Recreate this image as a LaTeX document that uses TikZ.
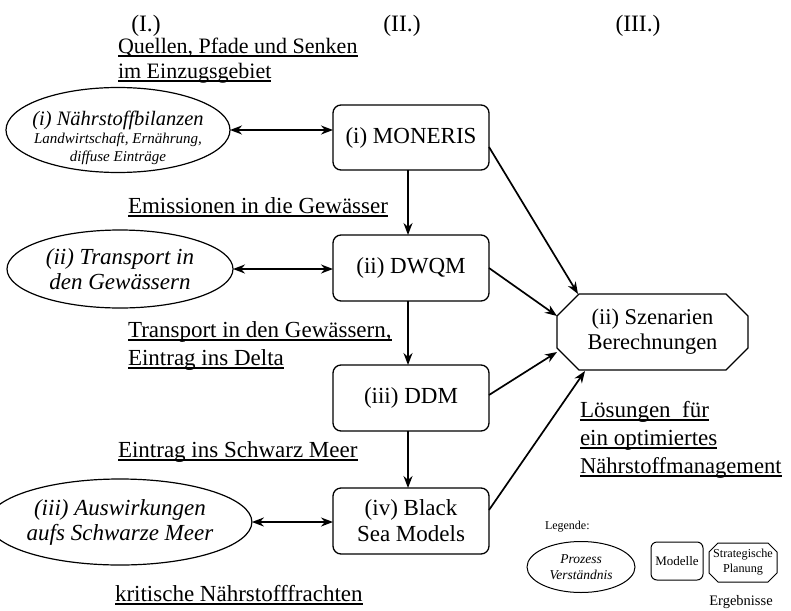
\documentclass[tikz,border=0pt]{standalone}
\usepackage{fontspec}
\setmainfont{Liberation Serif}
\usetikzlibrary{shapes.geometric,arrows.meta,calc}
\newcommand{\myul}[1]{\setbox0\hbox{#1}\rlap{\rule[-3.5pt]{\wd0}{1.1pt}}\box0}
\newcommand{\drawocto}[3]{% node, chamfer, style
  \draw[#3] ([xshift=#2]#1.north west) -- ([xshift=-#2]#1.north east) -- ([yshift=-#2]#1.north east)
    -- ([yshift=#2]#1.south east) -- ([xshift=-#2]#1.south east) -- ([xshift=#2]#1.south west)
    -- ([yshift=#2]#1.south west) -- ([yshift=-#2]#1.north west) -- cycle;}
\begin{document}
\begin{tikzpicture}[x=1pt,y=-1pt,
  every node/.style={inner sep=0pt,outer sep=0pt},
  txt/.style={font=\fontsize{23}{28}\selectfont, anchor=base west},
  hdr/.style={font=\fontsize{23.5}{28}\selectfont},
  proc/.style={draw, ellipse, line width=1.2pt, minimum width=224pt, minimum height=80pt, align=center, font=\fontsize{23}{25}\selectfont\itshape},
  modbox/.style={draw, rounded corners=8pt, line width=1.3pt, minimum width=156pt, minimum height=66pt, align=center, font=\fontsize{23}{26}\selectfont},
  arr/.style={line width=1.7pt, -{Stealth[length=12pt,width=9pt]}},
  darr/.style={line width=1.7pt, {Stealth[length=12pt,width=9pt]}-{Stealth[length=12pt,width=9pt]}}
]
\useasboundingbox (0,0) rectangle (791,610);
% headers
\node[hdr] (h1) at (146,26) {(I.)};
\node[hdr] (h2) at (402,26) {(II.)};
\node[hdr] (h3) at (638,26) {(III.)};
% labels
\node[txt, font=\fontsize{22}{26}\selectfont] (l1) at (118,53) {\myul{Quellen, Pfade und Senken}};
\node[txt, font=\fontsize{22}{26}\selectfont] (l2) at (118,78) {\myul{im Einzugsgebiet}};
\node[txt] (l3) at (128,213) {\myul{Emissionen in die Gewässer}};
\node[txt] (l4) at (128,337) {\myul{Transport in den Gewässern,}};
\node[txt] (l5) at (128,365) {\myul{Eintrag ins Delta}};
\node[txt] (l6) at (118,457) {\myul{Eintrag ins Schwarz Meer}};
\node[txt] (l7) at (115,601) {\myul{kritische Nährstofffrachten}};
\node[txt] (l8) at (580,417) {\myul{Lösungen\ \ für}};
\node[txt] (l9) at (580,445) {\myul{ein optimiertes}};
\node[txt, font=\fontsize{22.6}{28}\selectfont] (l10) at (580,473) {\myul{Nährstoffmanagement}};
% process ellipses
\node[proc, minimum height=85pt] (e1) at (118,130) {};
\node[align=center, font=\fontsize{15}{18}\selectfont\itshape] (e1t) at (118,138) {{\fontsize{20.5}{20}\selectfont (i) Nährstoffbilanzen}\\
  Landwirtschaft, Ernährung,\\diffuse Einträge};
\node[proc, minimum width=226pt, minimum height=78pt] (e2) at (120,269) {(ii) Transport in\\den Gewässern};
\node[proc, minimum width=222pt, minimum height=86pt] (e3) at (120,522) {(iii) Auswirkungen\\aufs Schwarze Meer};
% model boxes
\node[modbox, minimum height=65pt] (m1) at (411,137.5) {(i) MONERIS};
\node[modbox] (m2) at (411,268) {(ii) DWQM};
\node[modbox] (m3) at (411,398) {(iii) DDM};
\node[modbox] (m4) at (411,521) {(iv) Black\\Sea Models};
% strategic
\node[minimum width=191pt, minimum height=76pt, align=center, font=\fontsize{22.5}{25}\selectfont] (s1) at (652.5,332) {(ii) Szenarien\\Berechnungen};
\drawocto{s1}{22pt}{line width=1.3pt}
% connectors
\draw[darr] (e1.east) -- (m1.west |- e1.east);
\draw[darr] (e2.east) -- (m2.west |- e2.east);
\draw[darr] (e3.east) -- (m4.west |- e3.east);
\draw[arr] (m1.south -| 408,0) -- (m2.north -| 408,0);
\draw[arr] (m2.south -| 408,0) -- (m3.north -| 408,0);
\draw[arr] (m3.south -| 408,0) -- (m4.north -| 408,0);
\coordinate (t1) at (578,294);
\coordinate (t2) at (557,316);
\coordinate (t3) at (557,352);
\coordinate (t4) at (585,371);
\draw[arr] (m1.east |- 0,147) -- (t1);
\draw[arr] (m2.east) -- (t2);
\draw[arr] (m3.east |- 0,395) -- (t3);
\draw[arr] (m4.east |- 0,510) -- (t4);
% legend
\node[font=\fontsize{12}{14}\selectfont, anchor=west] (lg) at (545,527) {Legende:};
\node[draw, ellipse, line width=1pt, minimum width=108pt, minimum height=51pt, align=center, font=\fontsize{13.5}{16}\selectfont\itshape] (le) at (581,567) {Prozess\\Verständnis};
\node[draw, rounded corners=6pt, line width=1pt, minimum width=52pt, minimum height=38pt, font=\fontsize{13}{15}\selectfont] (lm) at (677,561) {Modelle};
\node[minimum width=68pt, minimum height=39pt, align=center, font=\fontsize{12.2}{15}\selectfont] (ls) at (743,562.5) {Strategische\\Planung};
\drawocto{ls}{9pt}{line width=1pt}
\node[font=\fontsize{14.5}{17}\selectfont] (lr) at (741,602) {Ergebnisse};
\end{tikzpicture}
\end{document}
